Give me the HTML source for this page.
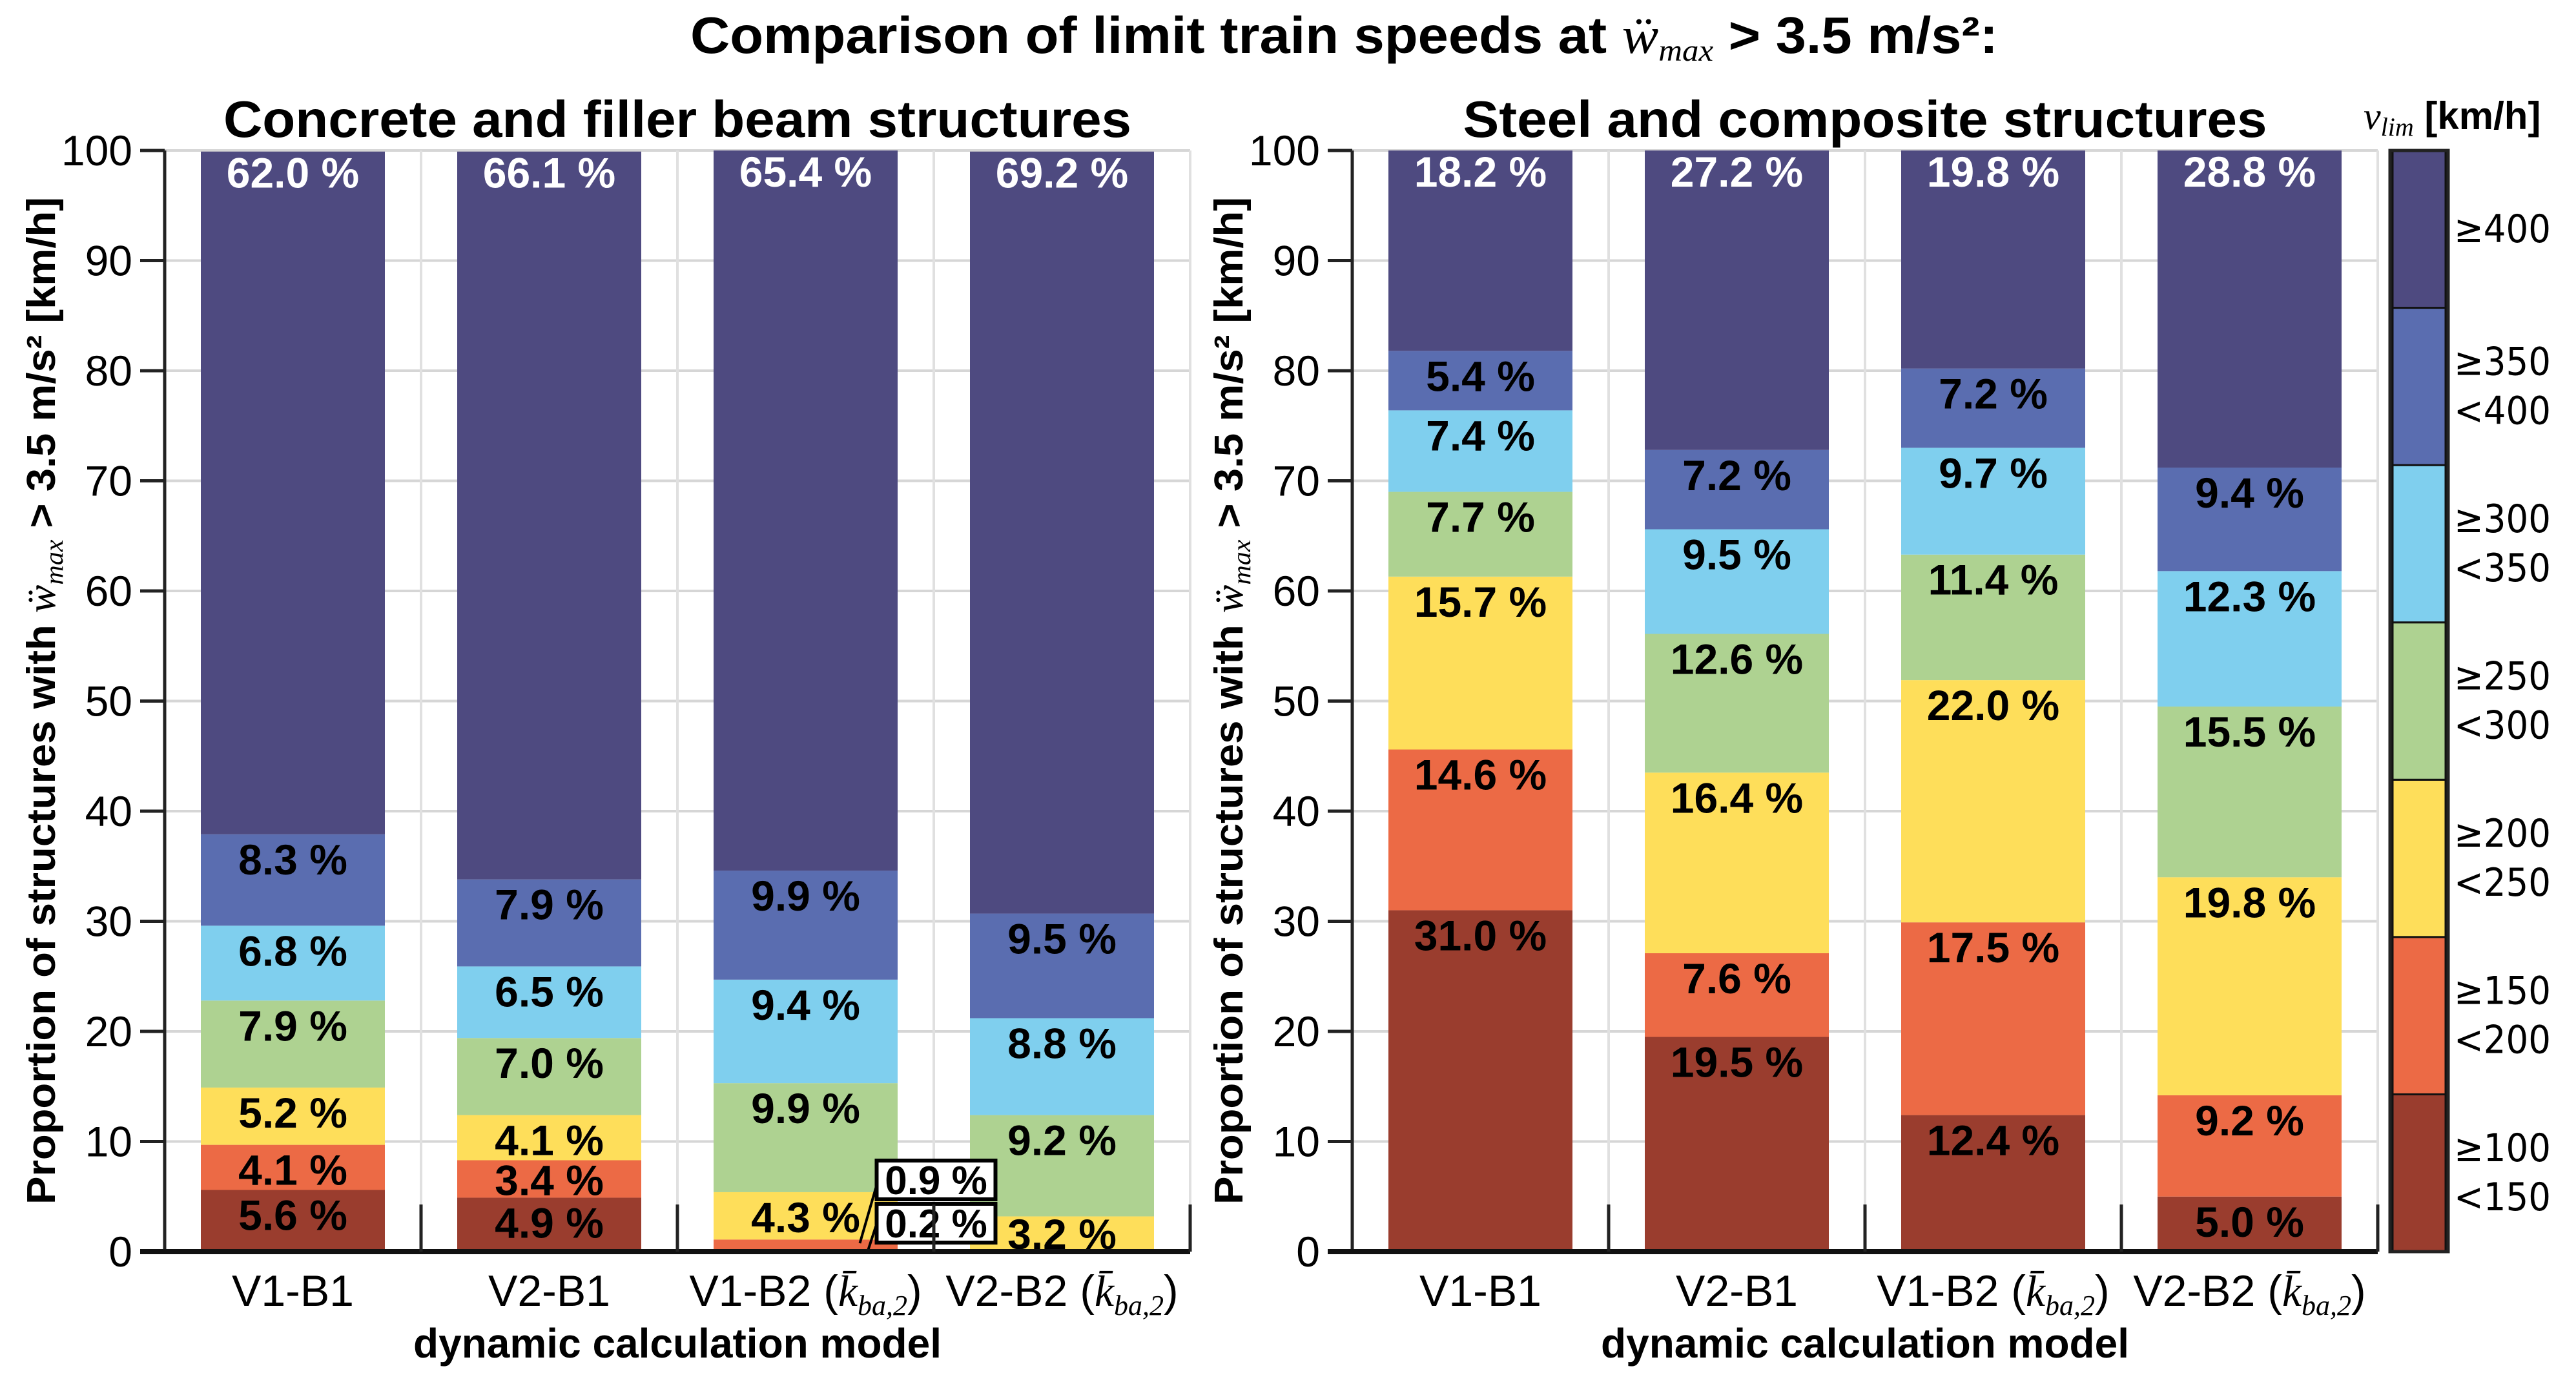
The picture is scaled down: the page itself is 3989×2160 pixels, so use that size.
<!DOCTYPE html>
<html><head><meta charset="utf-8"><style>
html,body{margin:0;padding:0;background:#fff;}
svg{display:block;font-family:"Liberation Sans",Arial,sans-serif;}
</style></head><body>
<svg id="chart" width="3989" height="2160" viewBox="0 0 3989 2160" xmlns="http://www.w3.org/2000/svg">
<text x="1069" y="82" font-size="80" font-weight="bold" textLength="2025" lengthAdjust="spacingAndGlyphs">Comparison of limit train speeds at <tspan font-family="Liberation Serif" font-style="italic" font-weight="normal">ẅ<tspan font-size="48" dy="12">max</tspan></tspan><tspan dy="-12"> &gt; 3.5 m/s²:</tspan></text>
<g id="left"></g>
<g id="right"></g>
<g id="cbar"></g>
</svg>
<script>
const NS="http://www.w3.org/2000/svg";
const categories=["V1-B1","V2-B1","V1-B2","V2-B2"];
const speedClasses=["≥100 <150","≥150 <200","≥200 <250","≥250 <300","≥300 <350","≥350 <400","≥400"];
const colors=["#9a3d2e","#ec6a45","#fede5a","#aed291","#7fcfee","#5a6db0","#4e4a80"];
const concreteV1B1=[5.6,4.1,5.2,7.9,6.8,8.3,62.0];
const concreteV2B1=[4.9,3.4,4.1,7.0,6.5,7.9,66.1];
const concreteV1B2=[0.2,0.9,4.3,9.9,9.4,9.9,65.4];
const concreteV2B2=[0,0,3.2,9.2,8.8,9.5,69.2];
const steelV1B1=[31.0,14.6,15.7,7.7,7.4,5.4,18.2];
const steelV2B1=[19.5,7.6,16.4,12.6,9.5,7.2,27.2];
const steelV1B2=[12.4,17.5,22.0,11.4,9.7,7.2,19.8];
const steelV2B2=[5.0,9.2,19.8,15.5,12.3,9.4,28.8];
const yTicks=[0,10,20,30,40,50,60,70,80,90,100];

const Y0=1938,Y100=233;
function yS(v){return Y0-(Y0-Y100)*v/100;}
function el(tag,attrs,parent,txt){const e=document.createElementNS(NS,tag);for(const k in attrs)e.setAttribute(k,attrs[k]);if(txt!==undefined)e.textContent=txt;parent.appendChild(e);return e;}

function panel(g,X0,title,titleLen,series,boxed){
  const W=1588,step=W/4,bw=285;
  function xC(i){return X0+step*(i+0.5);}
  let t=el('text',{x:X0+W/2-titleLen/2,y:212,'font-size':80,'font-weight':'bold',textLength:titleLen,lengthAdjust:'spacingAndGlyphs'},g,title);
  
  
  yTicks.forEach(v=>{
    let l=el('line',{x1:X0,x2:X0+W,y1:yS(v),y2:yS(v),stroke:'#d6d6d6','stroke-width':4},g);
    
    
    let tk=el('text',{x:X0-50,y:yS(v)+23,'font-size':66,'text-anchor':'end'},g,String(v));
    
    
    el('line',{x1:X0-38,x2:X0,y1:yS(v),y2:yS(v),stroke:'#222','stroke-width':5},g);
  });
  for(let i=1;i<=4;i++){el('line',{x1:X0+step*i,x2:X0+step*i,y1:Y100,y2:Y0,stroke:'#e0e0e0','stroke-width':4},g);}
  series.forEach((vals,i)=>{
    let cum=0;
    vals.forEach((v,k)=>{
      const top=cum+v;
      if(v>0){
        let r=el('rect',{x:xC(i)-bw/2,y:yS(top),width:bw,height:yS(cum)-yS(top),fill:colors[k]},g);
        
        
      }
      if(v>=1.5){
        const white=k===6;
        let ly=yS(top)+(white?56:62);
        ly=Math.min(ly,yS(cum)-4);
        let lb=el('text',{x:xC(i),y:ly,'font-size':66,'font-weight':'bold','text-anchor':'middle',fill:white?'#fff':'#000'},g,v.toFixed(1)+' %');
        
        
      }
      cum=top;
    });
    let xl=el('text',{x:xC(i),y:2022,'font-size':68,'text-anchor':'middle'},g);
    
    
    if(categories[i].indexOf('B2')>=0){
      xl.innerHTML=categories[i]+' (<tspan font-family="Liberation Serif" font-style="italic">k̄</tspan><tspan font-family="Liberation Serif" font-style="italic" font-size="44" dy="14">ba,2</tspan><tspan dy="-14">)</tspan>';
    } else xl.textContent=categories[i];
  });
  if(boxed){
    const vals=series[2];
    const bx=xC(2)+110;
    [[vals[1],1797],[vals[0],1864]].forEach(([v,by])=>{
      let b=el('rect',{x:bx,y:by,width:184,height:60,fill:'#fff',stroke:'#000','stroke-width':6},g);
      
      
      let tx=el('text',{x:bx+92,y:by+52,'font-size':62,'font-weight':'bold','text-anchor':'middle'},g,v.toFixed(1)+' %');
      
      
    });
    el('line',{x1:bx-26,y1:1925,x2:bx,y2:1835,stroke:'#000','stroke-width':4},g);
    el('line',{x1:bx-14,y1:1938,x2:bx,y2:1895,stroke:'#000','stroke-width':4},g);
  }
  el('line',{x1:X0,x2:X0,y1:Y100,y2:Y0,stroke:'#222','stroke-width':5},g);
  el('line',{x1:X0-38,x2:X0+W,y1:Y0,y2:Y0,stroke:'#111','stroke-width':8},g);
  for(let i=1;i<=4;i++){el('line',{x1:X0+step*i,x2:X0+step*i,y1:1865,y2:Y0,stroke:'#222','stroke-width':5},g);}
  let xt=el('text',{x:X0+W/2,y:2102,'font-size':64,'font-weight':'bold','text-anchor':'middle'},g,'dynamic calculation model');
  
  
  let yt=el('text',{x:-780,y:0,'font-size':62,'font-weight':'bold',textLength:1560,lengthAdjust:'spacingAndGlyphs',transform:`translate(${X0-170},1085) rotate(-90)`},g);
  
  
  yt.innerHTML='Proportion of structures with <tspan font-family="Liberation Serif" font-style="italic" font-weight="normal">ẅ</tspan><tspan font-family="Liberation Serif" font-style="italic" font-weight="normal" font-size="40" dy="12">max</tspan><tspan dy="-12"> &gt; 3.5 m/s² [km/h]</tspan>';
}
panel(document.getElementById('left'),255,'Concrete and filler beam structures',1406,[concreteV1B1,concreteV2B1,concreteV1B2,concreteV2B2],true);
panel(document.getElementById('right'),2094,'Steel and composite structures',1245,[steelV1B1,steelV2B1,steelV1B2,steelV2B2],false);

const cb=document.getElementById('cbar');
const cbx=3705,cbw=82,segH=(Y0-Y100)/7;
for(let k=0;k<7;k++){
  const top=Y100+segH*(6-k);
  let r=el('rect',{x:cbx,y:top,width:cbw,height:segH,fill:colors[k],stroke:'#111','stroke-width':3},cb);
  
  
  const parts=speedClasses[k].split(' ');
  const cy=top+segH/2;
  parts.forEach((p,j)=>{
    const yy=parts.length===1?cy+20:cy-18+j*76;
    let t=el('text',{x:3800,y:yy,'font-size':60,'font-family':'DejaVu Sans',textLength:150,lengthAdjust:'spacingAndGlyphs'},cb,p);
    
    
  });
}
el('rect',{x:cbx-4,y:Y100,width:cbw+8,height:Y0-Y100,fill:'none',stroke:'#222','stroke-width':5},cb);
let ct=el('text',{x:3660,y:200,'font-size':60,'font-weight':'bold'},cb);


ct.innerHTML='<tspan font-family="Liberation Serif" font-style="italic" font-weight="normal">v</tspan><tspan font-family="Liberation Serif" font-style="italic" font-weight="normal" font-size="40" dy="10">lim</tspan><tspan dy="-10"> [km/h]</tspan>';
</script>
</body></html>
